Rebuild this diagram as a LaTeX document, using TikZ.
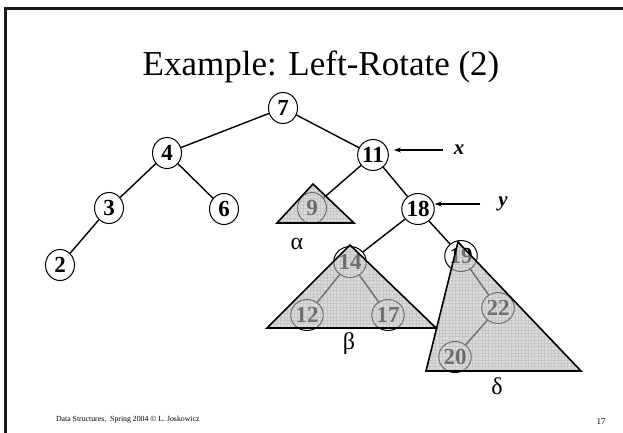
\documentclass[tikz,border=0pt]{standalone}
\usepackage{fontspec}
\setmainfont{Liberation Serif}
\usetikzlibrary{arrows.meta, positioning, shapes.geometric}
\definecolor{framegray}{RGB}{25, 25, 25}
\definecolor{subfill}{RGB}{190, 190, 190}
\definecolor{subgrid}{RGB}{150, 150, 150}

\begin{document}
\begin{tikzpicture}[
    x=1pt, y=-1pt,
    >={Stealth[length=7pt, width=5pt]},
    line width=1.4pt,
    key/.style={ellipse, draw, line width=1pt, minimum width=29pt, minimum height=31pt, inner sep=0pt,
                font=\fontsize{23}{23}\selectfont\bfseries},
    subtree/.style={line width=1.6pt, line join=miter},
    greek/.style={font=\fontsize{24}{24}\selectfont},
    ptrlabel/.style={font=\fontsize{21}{21}\selectfont\bfseries\itshape},
]
    \useasboundingbox (0,0) rectangle (623,433);

    % --- slide frame and texts ---
    \draw[framegray, line width=2.6pt] (5.3,433) -- (5.3,8.3) -- (623,8.3);
    \node[anchor=base, font=\fontsize{35}{35}\selectfont] (title) at (321,76) {Example: Left-Rotate (2)};
    \node[anchor=base west, font=\fontsize{7.8}{7.8}\selectfont] (foot) at (52,421) {Data Structures,\ \ Spring 2004 \textcopyright{} L. Joskowicz};
    \node[anchor=base, font=\fontsize{9}{9}\selectfont] (pageno) at (601,424) {17};

    % --- the tree ---
    \node[key] (n7)  at (283,108) {7};
    \node[key] (n4)  at (167,153) {4};
    \node[key] (n11) at (373,155) {11};
    \node[key] (n3)  at (109,208) {3};
    \node[key] (n6)  at (224,209) {6};
    \node[key] (n9)  at (312,208) {9};
    \node[key] (n18) at (418,209) {18};
    \node[key] (n2)  at (60,265)  {2};
    \node[key] (n14) at (350,262) {14};
    \node[key] (n19) at (461,256) {19};
    \node[key] (n12) at (307,315) {12};
    \node[key] (n17) at (388,315) {17};
    \node[key] (n22) at (498,308) {22};
    \node[key] (n20) at (455,357) {20};

    \draw (n7) -- (n4);
    \draw (n7) -- (n11);
    \draw (n4) -- (n3);
    \draw (n4) -- (n6);
    \draw (n3) -- (n2);
    \draw (n11) -- (n9);
    \draw (n11) -- (n18);
    \draw (n18) -- (n14);
    \draw (n18) -- (n19);
    \draw (n14) -- (n12);
    \draw (n14) -- (n17);
    \draw (n19) -- (n22);
    \draw (n22) -- (n20);

    % --- subtrees alpha, beta, delta ---
    \coordinate (aT) at (313,184); \coordinate (aL) at (277,223); \coordinate (aR) at (354,223);
    \coordinate (bT) at (350,245); \coordinate (bL) at (267,328); \coordinate (bR) at (436,328);
    \coordinate (dT) at (458,242); \coordinate (dL) at (426,371); \coordinate (dR) at (581,371);
    \foreach \t/\l/\r in {aT/aL/aR, bT/bL/bR, dT/dL/dR} {
        \begin{scope}
            \clip (\t) -- (\l) -- (\r) -- cycle;
            \fill[subfill, opacity=0.55] (\t) -- (\l) -- (\r) -- cycle;
            \draw[subgrid, line width=0.25pt, opacity=0.3, step=3.3pt] (260,170) grid (600,380);
        \end{scope}
        \draw[subtree] (\t) -- (\l) -- (\r) -- cycle;
    }
    \node[greek] (alpha) at (297,244) {α};
    \node[greek] (beta)  at (349,344) {β};
    \node[greek] (delta) at (497,386) {δ};

    % --- pointers x and y ---
    \node[ptrlabel] (xlab) at (459,150) {x};
    \node[ptrlabel] (ylab) at (503,204) {y};
    \coordinate[left=7pt of xlab] (xtail);
    \coordinate[left=14pt of ylab] (ytail);
    \draw[->, line width=1.2pt, shorten >=5pt] (xtail) -- (xtail -| n11.east);
    \draw[->, line width=1.2pt] (ytail) -- (ytail -| n18.east);
\end{tikzpicture}
\end{document}
